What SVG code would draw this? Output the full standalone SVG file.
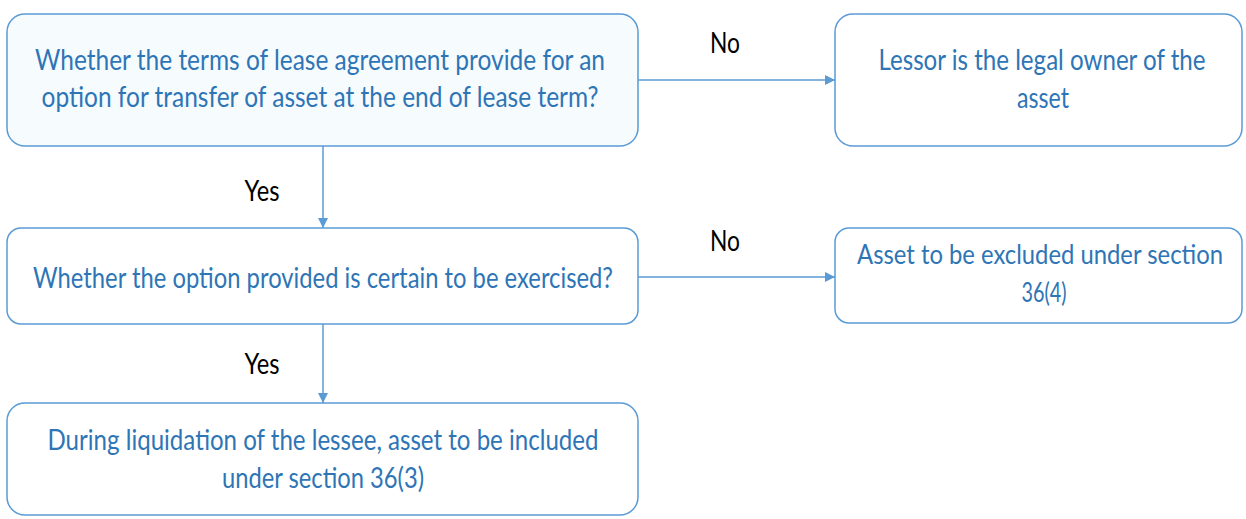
<svg xmlns="http://www.w3.org/2000/svg" width="1246" height="519" viewBox="0 0 1246 519">
<style>
.box{fill:#ffffff;stroke:#5b9bd5;stroke-width:1.5}
.tint{fill:#f6fbfe}
.t{font-family:Lato,"Liberation Sans",sans-serif;font-size:29px;fill:#2e75b6;text-anchor:middle}
.s{font-size:26px}
.lbl{font-family:Lato,"Liberation Sans",sans-serif;font-size:29px;fill:#000000;text-anchor:middle}
.c{stroke:#5b9bd5;stroke-width:1.5;fill:none}
</style>
<defs>
<marker id="arr" viewBox="0 0 10 10" refX="10" refY="5" markerWidth="10" markerHeight="10" markerUnits="userSpaceOnUse" orient="auto">
<path d="M0,0 L10,5 L0,10 z" fill="#5b9bd5"/>
</marker>
</defs>
<rect width="1246" height="519" fill="#ffffff"/>
<g id="connectors">
<line class="c" x1="638" y1="80" x2="835" y2="80" marker-end="url(#arr)"/>
<line class="c" x1="323" y1="146" x2="323" y2="228" marker-end="url(#arr)"/>
<line class="c" x1="638" y1="277" x2="835" y2="277" marker-end="url(#arr)"/>
<line class="c" x1="323" y1="324" x2="323" y2="403" marker-end="url(#arr)"/>
<text class="lbl" x="725" y="53" textLength="30" lengthAdjust="spacingAndGlyphs">No</text>
<text class="lbl" x="262" y="201" textLength="35" lengthAdjust="spacingAndGlyphs">Yes</text>
<text class="lbl" x="725" y="251" textLength="30" lengthAdjust="spacingAndGlyphs">No</text>
<text class="lbl" x="262" y="374" textLength="35" lengthAdjust="spacingAndGlyphs">Yes</text>
</g>
<g id="q1">
<rect class="box tint" x="7" y="14" width="631" height="132" rx="18"/>
<text class="t" x="320" y="70" textLength="570" lengthAdjust="spacingAndGlyphs">Whether the terms of lease agreement provide for an</text>
<text class="t" x="320" y="107" textLength="557" lengthAdjust="spacingAndGlyphs">option for transfer of asset at the end of lease term?</text>
</g>
<g id="lessor">
<rect class="box" x="835" y="14" width="407" height="132" rx="18"/>
<text class="t" x="1042" y="70" textLength="327" lengthAdjust="spacingAndGlyphs">Lessor is the legal owner of the</text>
<text class="t" x="1043" y="108" textLength="52" lengthAdjust="spacingAndGlyphs">asset</text>
</g>
<g id="q2">
<rect class="box" x="7" y="228" width="631" height="96" rx="14"/>
<text class="t" x="323" y="288" textLength="580" lengthAdjust="spacingAndGlyphs">Whether the option provided is certain to be exercised?</text>
</g>
<g id="excluded">
<rect class="box" x="835" y="228" width="407" height="95" rx="14"/>
<text class="t s" x="1040" y="264" textLength="366" lengthAdjust="spacingAndGlyphs">Asset to be excluded under section</text>
<text class="t s" x="1044" y="302" textLength="45" lengthAdjust="spacingAndGlyphs">36(4)</text>
</g>
<g id="included">
<rect class="box" x="7" y="403" width="631" height="112" rx="18"/>
<text class="t" x="323" y="450" textLength="551" lengthAdjust="spacingAndGlyphs">During liquidation of the lessee, asset to be included</text>
<text class="t" x="323" y="488" textLength="202" lengthAdjust="spacingAndGlyphs">under section 36(3)</text>
</g>
</svg>
